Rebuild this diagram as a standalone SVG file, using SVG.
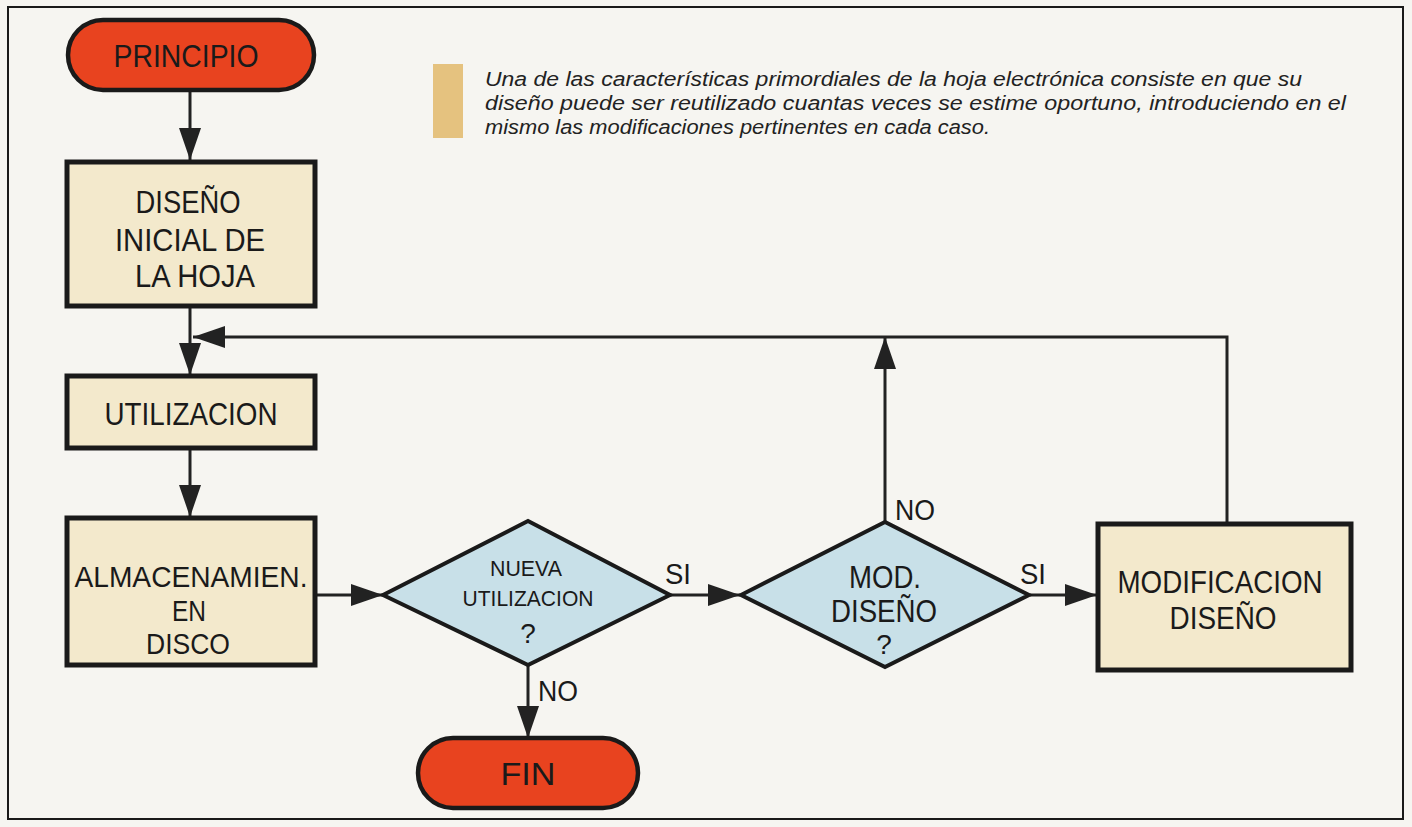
<svg xmlns="http://www.w3.org/2000/svg" width="1412" height="827" viewBox="0 0 1412 827">
<defs>
<style>
.bg{fill:#f6f5f1}
.frame{fill:none;stroke:#1a1a1a;stroke-width:2}
.term{fill:#e8431f;stroke:#1a1a1a;stroke-width:4.5}
.box{fill:#f3e9cc;stroke:#1a1a1a;stroke-width:5}
.dec{fill:#c8e0e8;stroke:#1a1a1a;stroke-width:4}
.t{font-family:"Liberation Sans",Arial,sans-serif;font-size:32px;fill:#1a1a1a;text-anchor:middle}
.tm{font-size:30px}
.ts{font-family:"Liberation Sans",Arial,sans-serif;font-size:22px;fill:#1a1a1a;text-anchor:middle}
.lbl{font-family:"Liberation Sans",Arial,sans-serif;font-size:29px;fill:#1a1a1a}
.note{font-family:"Liberation Sans",Arial,sans-serif;font-size:20px;font-style:italic;fill:#222}
.c{fill:none;stroke:#222;stroke-width:3}
</style>
<marker id="ah" markerUnits="userSpaceOnUse" markerWidth="32" markerHeight="22" refX="32" refY="11" orient="auto" viewBox="0 0 32 22">
<path d="M0,0 L32,11 L0,22 Z" fill="#222"/>
</marker>
</defs>
<rect class="bg" x="0" y="0" width="1412" height="827"/>
<rect class="frame" x="8" y="7" width="1395" height="812"/>

<g id="note">
<rect x="433" y="64" width="30" height="74" fill="#e5c27f"/>
<text class="note" x="485" y="86" textLength="817" lengthAdjust="spacingAndGlyphs">Una de las características primordiales de la hoja electrónica consiste en que su</text>
<text class="note" x="485" y="110" textLength="861" lengthAdjust="spacingAndGlyphs">diseño puede ser reutilizado cuantas veces se estime oportuno, introduciendo en el</text>
<text class="note" x="485" y="134" textLength="505" lengthAdjust="spacingAndGlyphs">mismo las modificaciones pertinentes en cada caso.</text>
</g>

<g id="connectors">
<line class="c" x1="190" y1="92" x2="190" y2="160" marker-end="url(#ah)"/>
<line class="c" x1="190" y1="306" x2="190" y2="375" marker-end="url(#ah)"/>
<line class="c" x1="190" y1="448" x2="190" y2="517" marker-end="url(#ah)"/>
<line class="c" x1="315" y1="595" x2="383" y2="595" marker-end="url(#ah)"/>
<line class="c" x1="670" y1="595" x2="740" y2="595" marker-end="url(#ah)"/>
<line class="c" x1="528" y1="665" x2="528" y2="738" marker-end="url(#ah)"/>
<line class="c" x1="885" y1="522" x2="885" y2="337" marker-end="url(#ah)"/>
<line class="c" x1="1030" y1="595" x2="1097" y2="595" marker-end="url(#ah)"/>
<polyline class="c" points="1227,523 1227,337 193,337" marker-end="url(#ah)"/>
<text class="lbl" x="665" y="584" textLength="26" lengthAdjust="spacingAndGlyphs">SI</text>
<text class="lbl" x="1020" y="584" textLength="26" lengthAdjust="spacingAndGlyphs">SI</text>
<text class="lbl" x="895" y="520" textLength="40" lengthAdjust="spacingAndGlyphs">NO</text>
<text class="lbl" x="538" y="701" textLength="40" lengthAdjust="spacingAndGlyphs">NO</text>
</g>

<g id="principio">
<rect class="term" x="68" y="20" width="246" height="70" rx="35"/>
<text class="t" x="186" y="67" textLength="145" lengthAdjust="spacingAndGlyphs">PRINCIPIO</text>
</g>

<g id="diseno-inicial">
<rect class="box" x="67" y="162" width="248" height="144"/>
<text class="t" x="188" y="213" textLength="105" lengthAdjust="spacingAndGlyphs">DISEÑO</text>
<text class="t" x="190" y="251" textLength="150" lengthAdjust="spacingAndGlyphs">INICIAL DE</text>
<text class="t" x="195" y="287" textLength="120" lengthAdjust="spacingAndGlyphs">LA HOJA</text>
</g>

<g id="utilizacion">
<rect class="box" x="67" y="376" width="248" height="72"/>
<text class="t" x="191" y="425" textLength="173" lengthAdjust="spacingAndGlyphs">UTILIZACION</text>
</g>

<g id="almacenamiento">
<rect class="box" x="67" y="518" width="248" height="147"/>
<text class="t tm" x="191" y="587" textLength="233" lengthAdjust="spacingAndGlyphs">ALMACENAMIEN.</text>
<text class="t tm" x="189" y="621" textLength="34" lengthAdjust="spacingAndGlyphs">EN</text>
<text class="t tm" x="188" y="654" textLength="84" lengthAdjust="spacingAndGlyphs">DISCO</text>
</g>

<g id="nueva-utilizacion">
<polygon class="dec" points="383,595 528,521 670,595 528,665"/>
<text class="ts" x="526" y="576" textLength="72" lengthAdjust="spacingAndGlyphs">NUEVA</text>
<text class="ts" x="528" y="606" textLength="131" lengthAdjust="spacingAndGlyphs">UTILIZACION</text>
<text class="t" x="528" y="643" style="font-size:28px">?</text>
</g>

<g id="mod-diseno">
<polygon class="dec" points="741,595 885,522 1029,595 885,667"/>
<text class="t" x="885" y="588" textLength="72" lengthAdjust="spacingAndGlyphs">MOD.</text>
<text class="t" x="884" y="622" textLength="106" lengthAdjust="spacingAndGlyphs">DISEÑO</text>
<text class="t" x="884" y="654" style="font-size:28px">?</text>
</g>

<g id="modificacion">
<rect class="box" x="1098" y="524" width="253" height="146"/>
<text class="t" x="1220" y="593" textLength="205" lengthAdjust="spacingAndGlyphs">MODIFICACION</text>
<text class="t" x="1223" y="629" textLength="107" lengthAdjust="spacingAndGlyphs">DISEÑO</text>
</g>

<g id="fin">
<rect class="term" x="418" y="738" width="220" height="70" rx="35"/>
<text class="t" x="528" y="785" textLength="55" lengthAdjust="spacingAndGlyphs">FIN</text>
</g>
</svg>
